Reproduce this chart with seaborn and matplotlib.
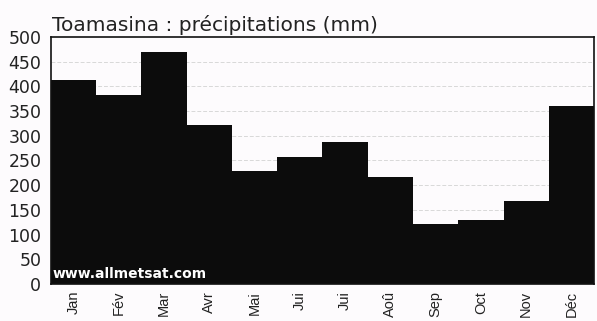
import matplotlib
matplotlib.use("Agg")
import matplotlib.pyplot as plt
import seaborn as sns
import pandas as pd

months = ["Jan", "Fév", "Mar", "Avr", "Mai", "Jui", "Jui", "Aoû", "Sep", "Oct", "Nov", "Déc"]
precip = [413, 383, 470, 322, 229, 257, 287, 217, 121, 130, 168, 360]
yticks = [0, 50, 100, 150, 200, 250, 300, 350, 400, 450, 500]
title = "Toamasina : précipitations (mm)"
watermark = "www.allmetsat.com"

sns.set_theme(style="white")
plt.rcParams["font.family"] = ["DejaVu Sans"]

df = pd.DataFrame({"pos": list(range(len(months))), "mm": precip})

fig = plt.figure(figsize=(5.97, 3.21), dpi=100, facecolor="#fdfbfd")
ax = fig.add_axes([0.0854, 0.1153, 0.9096, 0.7697])
ax.set_facecolor("#fdfbfd")

for v in yticks[1:-1]:
    ax.axhline(v, color="#d8d8d8", lw=0.7, ls=(0, (4, 2)), zorder=0)

sns.barplot(data=df, x="pos", y="mm", color="#0c0c0c", saturation=1,
            width=1.0, linewidth=0, ax=ax, zorder=2, native_scale=False)

ax.set_xlim(-0.5, len(months) - 0.5)
ax.set_ylim(0, 500)
ax.set_yticks(yticks)
ax.set_yticklabels([str(t) for t in yticks], fontsize=12.5, color="#222222")
ax.set_xticks(range(len(months)))
ax.set_xticklabels(months, rotation=90, fontsize=10.5, color="#222222",
                   family=["Liberation Sans", "DejaVu Sans"])
ax.tick_params(axis="both", length=0)
ax.tick_params(axis="y", pad=7)
ax.tick_params(axis="x", pad=5)
ax.set_xlabel("")
ax.set_ylabel("")

for side in ["top", "right", "left", "bottom"]:
    ax.spines[side].set_color("#111111")
    ax.spines[side].set_linewidth(1.2)

ax.text(0.002, 1.008, title, transform=ax.transAxes, ha="left", va="bottom",
        fontsize=14.5, color="#222222")
ax.text(0.003, 0.012, watermark, transform=ax.transAxes, ha="left", va="bottom",
        fontsize=10, fontweight="bold", color="white", zorder=5)

fig.savefig("out.png", dpi=100, facecolor=fig.get_facecolor())
